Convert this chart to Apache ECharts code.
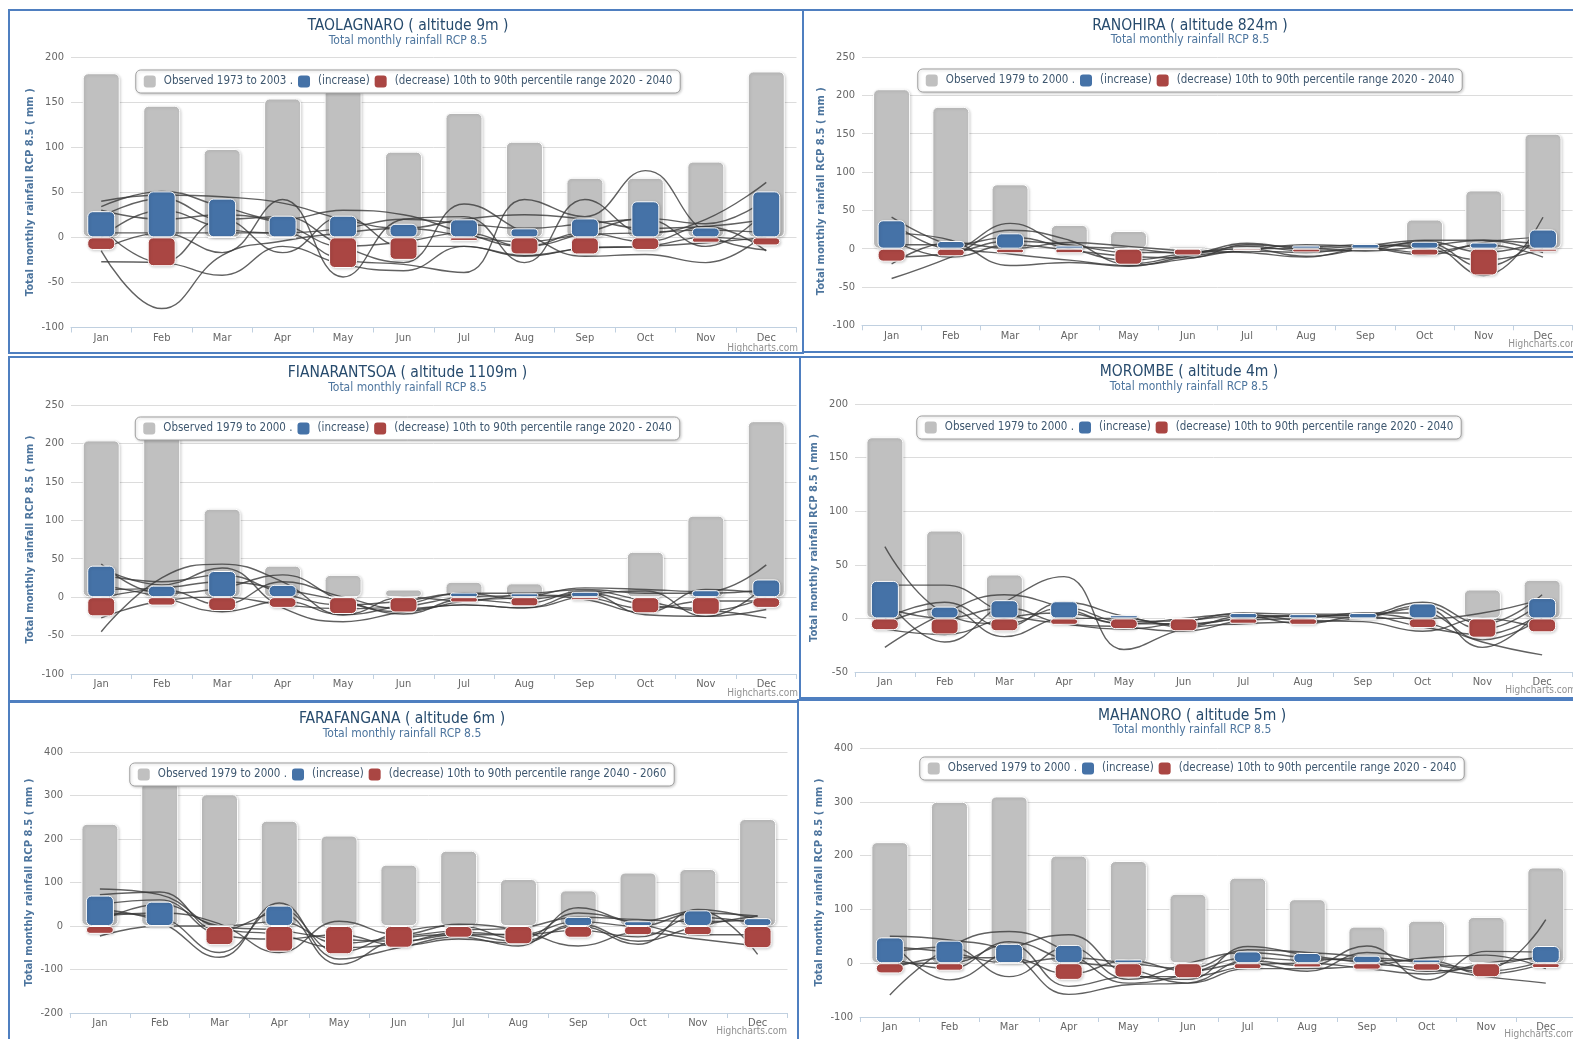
<!DOCTYPE html>
<html>
<head>
<meta charset="utf-8">
<script src="https://cdn.jsdelivr.net/npm/echarts@6/dist/echarts.min.js"></script>
<style>
html,body{margin:0;padding:0;background:#fff;width:1573px;height:1039px;overflow:hidden;position:relative;}
</style>
</head>
<body>
<script>
// ---------- DATA ----------
const months = ['Jan','Feb','Mar','Apr','May','Jun','Jul','Aug','Sep','Oct','Nov','Dec'];

// TAOLAGNARO
const taoObserved = [182, 146, 98, 154, 165, 95, 138, 106, 66, 66, 84, 184];
const taoIncrease = [29, 51, 43, 24, 24, 15, 20, 10, 21, 40, 11, 51];
const taoDecrease = [-14, -32, 0, -1, -34, -25, -4, -19, -19, -14, -6, -9];
const taoModels = [
  [-15, -79, -20, -4, 5, 10, 2, -5, 3, 5, 8, 5],
  [-27, -28, -42, -10, -30, -37, -10, -20, -12, -10, 0, -5],
  [40, 47, 45, 38, 20, 10, 20, 25, 20, 10, 12, 20],
  [34, 51, 34, 20, 30, 25, 5, -10, 5, 21, 15, 42],
  [23, 43, 20, 23, -10, -28, 37, 5, -21, -19, -28, 5],
  [5, 5, 5, 5, -25, -30, -39, 42, 23, 74, 5, -14],
  [-14, 5, -17, 42, -44, 20, 23, -28, 42, 5, 20, 61],
  [10, -28, 20, -17, 23, -10, -10, -21, -12, -10, -6, 0],
  [30, 20, 25, 15, -10, -5, 5, -10, 5, -5, 12, -15],
  [0, 30, 10, 5, 10, 20, 15, 10, 15, 20, -10, 30]
];

// RANOHIRA
const ranObserved = [208, 185, 84, 31, 23, 3, 8, 5, 3, 38, 76, 150];
const ranIncrease = [37, 10, 20, 4, 0, 0, 1, 4, 6, 9, 8, 25];
const ranDecrease = [-17, -10, -6, -6, -21, -9, -3, -5, -2, -9, -35, -4];
const ranModels = [
  [41, 4, -7, -15, -22, -13, -3, -5, 2, 5, -35, 41],
  [-39, -11, 24, 11, -20, -8, 0, -10, 0, 8, -24, 20],
  [35, 0, 33, 4, 0, -6, 7, 0, 4, 11, 11, 5],
  [20, 11, -22, -18, -23, -10, -2, 5, 2, -5, 5, -11],
  [-11, -6, 10, 5, -5, -5, 3, -3, -2, 10, -5, 10],
  [11, -11, 5, -2, -10, -12, 5, 2, 5, 0, -15, 0],
  [-20, 8, 0, 8, 3, -3, -5, -11, 0, -8, 8, 15],
  [5, 5, 15, 0, -15, -6, 0, 0, -3, 3, 11, -5]
];

// FIANARANTSOA
const fiaObserved = [204, 215, 115, 41, 29, 10, 20, 18, 10, 59, 106, 229];
const fiaIncrease = [41, 15, 34, 16, 0, 0, 6, 5, 7, 0, 9, 23];
const fiaDecrease = [-25, -11, -18, -14, -22, -20, -7, -12, -4, -21, -23, -14];
const fiaModels = [
  [43, 5, 12, 29, -5, -19, -5, 0, 12, 10, 7, 42],
  [-45, 25, 43, 20, -23, -10, 5, -3, 5, -23, -25, 16],
  [38, 16, 38, -14, -32, -19, -10, -14, 5, -10, -16, -27],
  [29, 20, 29, 5, -10, -5, 5, 5, 10, 5, 5, 10],
  [16, 0, -19, -5, -23, 0, -5, 3, 0, -15, -5, -5],
  [-1, 10, -10, 20, 0, -15, -10, -14, 2, 8, -25, -16],
  [-27, -5, 0, -10, -15, -12, 0, 2, -3, -20, 10, 5],
  [10, 12, 20, 10, -5, -22, -3, -8, 8, -5, -18, 0]
];

// MOROMBE
const morObserved = [169, 82, 41, 0, 0, 0, 0, 0, 0, 0, 27, 36];
const morIncrease = [35, 11, 17, 16, 3, 0, 5, 4, 5, 14, 0, 19];
const morDecrease = [-11, -15, -12, -6, -10, -12, -5, -6, -1, -9, -18, -13];
const morModels = [
  [67, 5, -5, 10, -3, -2, 3, 2, 3, 15, -5, 22],
  [-27, 5, 22, 10, -5, -5, 0, 3, 3, 10, -27, 10],
  [31, 31, 5, -5, -10, -3, 5, 4, 4, -3, -22, -34],
  [20, -22, 15, 39, -29, -10, -5, -3, 0, 12, -10, 15],
  [-5, 10, -17, 0, 0, -8, 2, -5, 2, -8, -15, 5],
  [10, 0, 10, -5, -8, -12, -2, 0, 5, 5, -20, 0],
  [-10, -15, 0, 5, -5, 0, 4, -2, -3, -12, 0, -10],
  [0, 15, -8, 15, 2, -6, 0, 2, 0, 0, 5, 18]
];

// FARAFANGANA
const farObserved = [235, 330, 303, 242, 208, 141, 173, 108, 82, 123, 131, 246];
const farIncrease = [70, 56, 0, 47, 0, 0, 0, 0, 21, 11, 36, 18];
const farDecrease = [-18, 0, -44, -59, -65, -50, -27, -42, -27, -21, -21, -51];
const farModels = [
  [85, 72, -5, -20, -50, -40, -15, -20, 10, 0, 30, 23],
  [72, 78, -10, 30, -88, -30, -20, -35, 0, -42, 38, 15],
  [38, 10, -72, 53, -76, -50, -25, -46, 42, 10, 35, -65],
  [23, 30, 5, -61, 11, -20, 4, -10, -46, -15, -30, -46],
  [-23, 0, 0, 10, -40, -25, -10, -5, 20, 15, 10, 15],
  [50, 60, -20, -30, -20, -45, -30, -40, 5, -35, 0, 23],
  [30, 20, -61, 40, -60, -15, 0, -30, 30, 5, -20, -20],
  [10, 50, 0, -10, -30, -35, -20, -20, -10, -25, 20, 5]
];

// MAHANORO
const mahObserved = [225, 300, 310, 200, 190, 129, 159, 119, 68, 79, 86, 178];
const mahIncrease = [48, 42, 36, 34, 7, 0, 22, 19, 14, 7, 0, 32];
const mahDecrease = [-19, -14, 0, -31, -27, -28, -11, -8, -12, -14, -26, -9];
const mahModels = [
  [-59, 30, 59, 20, -37, -20, 10, 5, 10, 0, -10, 81],
  [50, 43, 20, -58, -40, -37, 5, -5, 32, -31, 22, 20],
  [45, -31, 25, 53, -20, -30, 31, 15, 0, -10, -25, -37],
  [20, 30, -25, 30, -30, 0, 20, 10, 5, 5, -20, 0],
  [0, 0, 35, -43, -25, -25, -5, 0, -10, -20, 0, 10],
  [30, 20, 0, 10, 0, -10, 25, 20, 10, -15, -5, 15],
  [10, -10, 40, 5, -10, -37, -10, -10, -5, 10, 15, -10],
  [-10, 10, 10, -20, 5, -15, 0, -15, 20, 0, -15, 5]
];

// ---------- PANELS (layout) ----------
const panels = [
  {title:'TAOLAGNARO ( altitude 9m )', obsLabel:'Observed 1973 to 2003 .', range:'2020 - 2040',
   obs:taoObserved, inc:taoIncrease, dec:taoDecrease, models:taoModels, min:-100, max:200, interval:50,
   L:8, T:9, W:796, H:345, CW:796, CH:345,
   grid:{left:61, top:46, width:725.5, height:270.5}, titleTop:2, subTop:19, legendTop:59, credit:[788,338]},
  {title:'RANOHIRA ( altitude 824m )', obsLabel:'Observed 1979 to 2000 .', range:'2020 - 2040',
   obs:ranObserved, inc:ranIncrease, dec:ranDecrease, models:ranModels, min:-100, max:250, interval:50,
   L:802, T:9, W:800, H:344, CW:772, CH:344,
   grid:{left:58, top:46, width:710.6, height:268.3}, titleTop:2, subTop:18, legendTop:58, credit:[775,334]},
  {title:'FIANARANTSOA ( altitude 1109m )', obsLabel:'Observed 1979 to 2000 .', range:'2020 - 2040',
   obs:fiaObserved, inc:fiaIncrease, dec:fiaDecrease, models:fiaModels, min:-100, max:250, interval:50,
   L:8, T:356, W:793, H:346, CW:795, CH:346,
   grid:{left:61, top:47, width:725.5, height:269}, titleTop:2, subTop:19, legendTop:59, credit:[788,336]},
  {title:'MOROMBE ( altitude 4m )', obsLabel:'Observed 1979 to 2000 .', range:'2020 - 2040',
   obs:morObserved, inc:morIncrease, dec:morDecrease, models:morModels, min:-50, max:200, interval:50,
   L:799, T:356, W:800, H:343, CW:776, CH:343,
   grid:{left:53, top:46, width:718, height:268}, titleTop:1, subTop:18, legendTop:58, credit:[775,333]},
  {title:'FARAFANGANA ( altitude 6m )', obsLabel:'Observed 1979 to 2000 .', range:'2040 - 2060',
   obs:farObserved, inc:farIncrease, dec:farDecrease, models:farModels, min:-200, max:400, interval:100,
   L:8, T:701, W:791, H:345, CW:784, CH:345,
   grid:{left:60, top:49, width:717.5, height:261}, titleTop:3, subTop:20, legendTop:60, credit:[777,329]},
  {title:'MAHANORO ( altitude 5m )', obsLabel:'Observed 1979 to 2000 .', range:'2020 - 2040',
   obs:mahObserved, inc:mahIncrease, dec:mahDecrease, models:mahModels, min:-100, max:400, interval:100,
   L:797, T:699, W:800, H:345, CW:786, CH:345,
   grid:{left:61, top:47, width:715.6, height:269}, titleTop:2, subTop:18, legendTop:56, credit:[776,334]}
];

const NARROW = "'Liberation Sans Narrow','DejaVu Sans Condensed','Arial Narrow',sans-serif";
const GRAY = '#c0c0c0', BLUE = '#4572A7', RED = '#AA4643';
const barStyle = c => ({color:c, borderColor:'#fff', borderWidth:1, borderRadius:5,
  shadowColor:'rgba(0,0,0,0.18)', shadowBlur:3, shadowOffsetX:1, shadowOffsetY:1});

panels.forEach(p => {
  const outer = document.createElement('div');
  outer.style.cssText = `position:absolute;left:${p.L}px;top:${p.T}px;width:${p.W}px;height:${p.H}px;border:2px solid #4f7fc0;box-sizing:border-box;overflow:hidden;background:#fff;`;
  document.body.appendChild(outer);
  const inner = document.createElement('div');
  inner.style.cssText = `position:absolute;left:0;top:0;width:${p.CW}px;height:${p.CH}px;`;
  outer.appendChild(inner);
  const chart = echarts.init(inner, null, {renderer:'canvas'});

  const decLabel = '(decrease) 10th to 90th percentile range ' + p.range;
  const series = [
    {name:p.obsLabel, type:'bar', xAxisIndex:0, data:p.obs, barWidth:37, z:2, itemStyle:barStyle(GRAY)},
  ];
  p.models.forEach((m, i) => series.push({
    name:'model'+i, type:'line', xAxisIndex:0, data:m, smooth:0.45, showSymbol:false, symbol:'none', z:3,
    lineStyle:{color:'#3a3a3a', width:1.4, opacity:0.8}, silent:true
  }));
  series.push({name:'(increase)', type:'bar', xAxisIndex:1, data:p.inc, barWidth:28, barGap:'-100%', z:4, itemStyle:barStyle(BLUE)});
  series.push({name:decLabel, type:'bar', xAxisIndex:1, data:p.dec, barWidth:28, barGap:'-100%', z:4, itemStyle:barStyle(RED)});

  chart.setOption({
    animation:false,
    title:[
      {text:p.title, left:'center', top:p.titleTop, textStyle:{fontFamily:NARROW, fontSize:15.5, fontWeight:'normal', color:'#274b6d'}},
      {text:'Total monthly rainfall RCP 8.5', left:'center', top:p.subTop, textStyle:{fontFamily:NARROW, fontSize:12, fontWeight:'normal', color:'#4d759e'}}
    ],
    legend:{
      data:[p.obsLabel, '(increase)', decLabel],
      left:'center', top:p.legendTop, z:10,
      backgroundColor:'#fff', borderColor:'#a0a0a0', borderWidth:1, borderRadius:5,
      shadowColor:'rgba(0,0,0,0.2)', shadowBlur:3, shadowOffsetX:1, shadowOffsetY:1,
      padding:[5.5, 8], itemGap:5, itemWidth:12, itemHeight:12, icon:'roundRect',
      itemStyle:{borderWidth:0, shadowBlur:0, shadowOffsetX:0, shadowOffsetY:0},
      textStyle:{fontFamily:NARROW, fontSize:11.5, color:'#3E576F', padding:[0,0,0,3]}
    },
    grid:{left:p.grid.left, top:p.grid.top, width:p.grid.width, height:p.grid.height, containLabel:false},
    xAxis:[
      {type:'category', data:months, gridIndex:0,
       axisLine:{onZero:false, lineStyle:{color:'#C0D0E0'}},
       axisTick:{show:true, length:5, lineStyle:{color:'#C0D0E0'}},
       axisLabel:{fontFamily:NARROW, fontSize:11, color:'#666', margin:5}},
      {type:'category', data:months, gridIndex:0, show:false}
    ],
    yAxis:{type:'value', min:p.min, max:p.max, interval:p.interval,
      name:'Total monthly rainfall RCP 8.5 ( mm )', nameLocation:'middle', nameGap:36, nameMoveOverlap:false,
      nameTextStyle:{fontFamily:'DejaVu Sans', fontSize:10, fontWeight:'bold', color:'#4d759e'},
      axisLine:{show:false}, axisTick:{show:false},
      axisLabel:{fontFamily:NARROW, fontSize:11, color:'#666', margin:7},
      splitLine:{lineStyle:{color:'#dcdcdc', width:1}}
    },
    graphic:[{type:'text', right:p.CW - p.credit[0], top:p.credit[1] - 6, z:20,
      style:{text:'Highcharts.com', fill:'#909090', fontSize:10, fontFamily:NARROW}}],
    series:series
  });
});
</script>
</body>
</html>
